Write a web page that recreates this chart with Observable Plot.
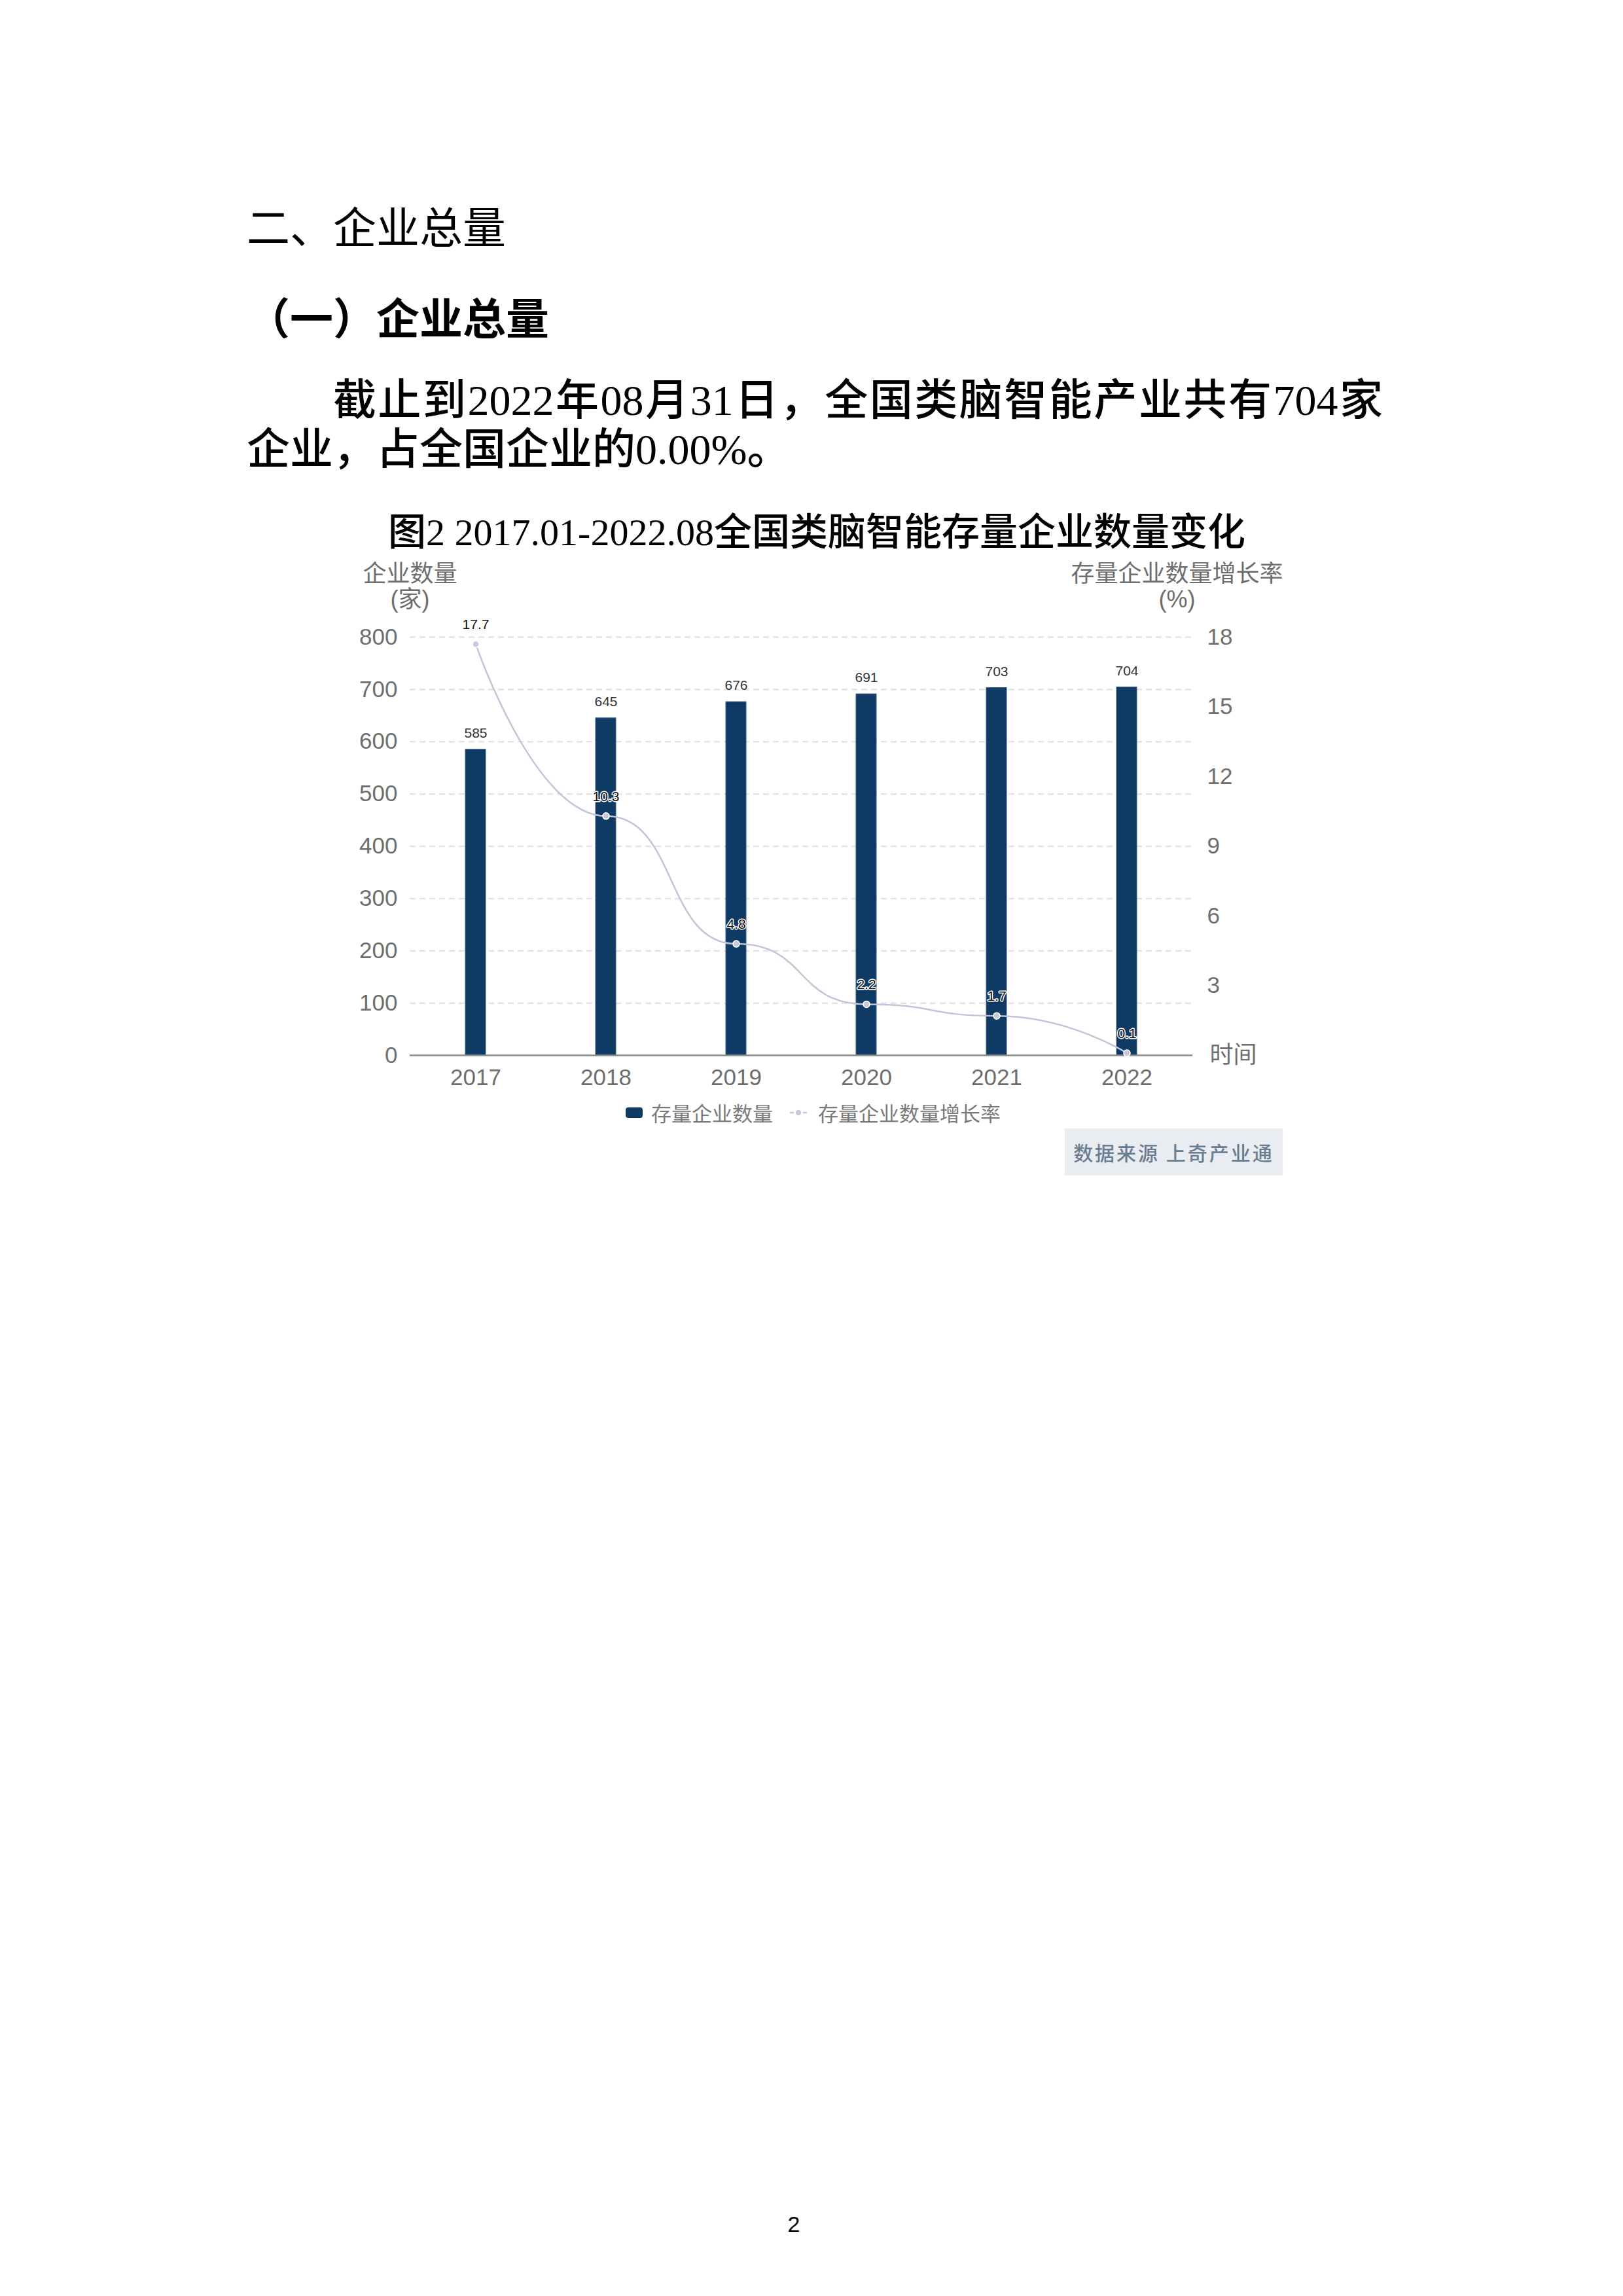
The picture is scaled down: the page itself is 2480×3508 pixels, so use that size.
<!DOCTYPE html>
<html>
<head>
<meta charset="utf-8">
<script src="https://cdn.jsdelivr.net/npm/d3@7"></script>
<script src="https://cdn.jsdelivr.net/npm/@observablehq/plot@0.6"></script>
<style>
  html, body { margin: 0; padding: 0; background: #fff; }
  #page { position: relative; width: 2480px; height: 3508px; background: #fff; overflow: hidden;
          font-family: "Liberation Serif", "Noto Sans CJK SC", serif; color: #000; }
  .abs { position: absolute; white-space: nowrap; }
  .cjk { font-family: "Noto Sans CJK SC", sans-serif; }
  .mix { font-family: "Liberation Serif", "Noto Sans CJK SC", serif; font-weight: 500; }
</style>
</head>
<body>
<div id="page">
  <div class="abs cjk" style="left:377px; top:310px; font-size:66px; line-height:66px;">二、企业总量</div>
  <div class="abs cjk" style="left:377px; top:449px; font-size:66px; line-height:66px; font-weight:700;">（一）企业总量</div>
  <div class="abs mix" style="left:377px; top:576px; width:1736px; height:72px; font-size:66px; line-height:72px; text-indent:132px; text-align:justify; text-align-last:justify; overflow:visible;">截止到2022年08月31日，全国类脑智能产业共有704家</div>
  <div class="abs mix" style="left:377px; top:651px; height:72px; font-size:66px; line-height:72px;">企业，占全国企业的0.00%。</div>
  <div class="abs mix" style="left:0; width:2496px; top:781px; font-size:58px; line-height:66px; text-align:center;">图2 2017.01-2022.08全国类脑智能存量企业数量变化</div>
  <div id="chart" class="abs" style="left:0; top:840px;"></div>
  <div id="legend" class="abs cjk" style="left:0; top:1680px; height:40px; width:2480px; font-size:31px; color:#7a7a7a;">
    <div class="abs" style="left:956px; top:12px; width:26px; height:16px; border-radius:4px; background:#0f3a64;"></div>
    <div class="abs" style="left:995px; top:1px; line-height:38px;">存量企业数量</div>
    <svg class="abs" style="left:1205px; top:10px;" width="30" height="20">
      <line x1="2" y1="10" x2="8" y2="10" stroke="#c3c3d9" stroke-width="2.5"/>
      <line x1="22" y1="10" x2="28" y2="10" stroke="#c3c3d9" stroke-width="2.5"/>
      <circle cx="15" cy="10" r="5" fill="#c9c9de" stroke="#fff" stroke-width="1.5"/>
    </svg>
    <div class="abs" style="left:1250px; top:1px; line-height:38px;">存量企业数量增长率</div>
  </div>
  <div class="abs cjk" style="left:1627px; top:1724px; width:333px; height:72px; background:#e9ecf0; color:#6a7d92; font-size:30px; line-height:72px; text-align:center; letter-spacing:3px; font-weight:500;">数据来源 上奇产业通</div>
  <div class="abs" style="left:1193px; width:40px; top:3381px; font-size:34px; line-height:34px; text-align:center; font-family:'Liberation Sans', sans-serif;">2</div>
</div>
<script>
const years = ["2017", "2018", "2019", "2020", "2021", "2022"];
const counts = [585, 645, 676, 691, 703, 704];
const rates = [17.7, 10.3, 4.8, 2.2, 1.7, 0.1];
const leftTicks = [0, 100, 200, 300, 400, 500, 600, 700, 800];
const rightTicks = [3, 6, 9, 12, 15, 18];
const leftMax = 800, rightMax = 18;

const data = years.map((y, i) => ({year: y, count: counts[i], rate: rates[i]}));
const toLeft = r => r * leftMax / rightMax;

const navy = "#0f3a64";
const lineColor = "#c3c3d9";
const axisColor = "#6e6e6e";

// smooth curve in the style of the source chart: flat tangents at inner points,
// control point at the point itself at both ends
function curveSmoothFlat(context) {
  const s = 0.55;
  let pts;
  return {
    areaStart() {}, areaEnd() {},
    lineStart() { pts = []; },
    point(x, y) { pts.push([+x, +y]); },
    lineEnd() {
      const n = pts.length;
      if (!n) return;
      context.moveTo(pts[0][0], pts[0][1]);
      for (let i = 0; i < n - 1; i++) {
        const [x0, y0] = pts[i], [x1, y1] = pts[i + 1];
        const dx = x1 - x0;
        const c1x = i === 0 ? x0 : x0 + s * dx;
        const c2x = i + 1 === n - 1 ? x1 : x1 - s * dx;
        context.bezierCurveTo(c1x, y0, c2x, y1, x1, y1);
      }
    }
  };
}

const chart = Plot.plot({
  width: 2480,
  height: 840,
  marginLeft: 626,
  marginRight: 658,
  marginTop: 133,
  marginBottom: 68,
  style: {fontFamily: "'Liberation Sans', 'Noto Sans CJK SC', sans-serif", color: axisColor, background: "transparent"},
  x: {type: "band", domain: years, paddingInner: 0.844, paddingOuter: 0.422, align: 0.5},
  y: {domain: [0, leftMax]},
  marks: [
    Plot.gridY(leftTicks.filter(d => d > 0), {stroke: "#e3e3e3", strokeOpacity: 1, strokeWidth: 2.5, strokeDasharray: "9,6"}),
    Plot.barY(data, {x: "year", y: "count", fill: navy, stroke: "#3d5f84", strokeWidth: 1}),
    Plot.ruleY([0], {stroke: "#8a8a8a", strokeWidth: 2.5}),
    Plot.axisY(leftTicks, {tickSize: 0, tickPadding: 19, fontSize: 35, fill: axisColor, label: null}),
    Plot.axisY(rightTicks.map(toLeft), {anchor: "right", tickSize: 0, tickPadding: 22, fontSize: 35, fill: axisColor, label: null,
      tickFormat: d => String(Math.round(d * rightMax / leftMax))}),
    Plot.axisX({tickSize: 0, tickPadding: 21, fontSize: 35, fill: axisColor, label: null}),
    Plot.text(data, {x: "year", y: "count", text: d => String(d.count), dy: -25, fontSize: 21, fill: "#333"}),
    Plot.line(data, {x: "year", y: d => toLeft(d.rate), curve: curveSmoothFlat, stroke: lineColor, strokeWidth: 2.5}),
    Plot.dot(data, {x: "year", y: d => toLeft(d.rate), r: 5, fill: "#c9c9de", stroke: "#fff", strokeWidth: 1.5}),
    Plot.text(data, {x: "year", y: d => toLeft(d.rate), text: d => d.rate.toFixed(1), dy: -30, fontSize: 21, fill: "#111", stroke: "#fff", strokeWidth: 3, paintOrder: "stroke"}),
    Plot.text(["企业数量"], {frameAnchor: "top-left", text: d => d, dy: -96, fontSize: 36, fill: axisColor, textAnchor: "middle", lineAnchor: "middle"}),
    Plot.text(["(家)"], {frameAnchor: "top-left", text: d => d, dy: -57, fontSize: 36, fill: axisColor, textAnchor: "middle", lineAnchor: "middle"}),
    Plot.text(["存量企业数量增长率"], {frameAnchor: "top-right", text: d => d, dx: -24, dy: -96, fontSize: 36, fill: axisColor, textAnchor: "middle", lineAnchor: "middle"}),
    Plot.text(["(%)"], {frameAnchor: "top-right", text: d => d, dx: -24, dy: -57, fontSize: 36, fill: axisColor, textAnchor: "middle", lineAnchor: "middle"}),
    Plot.text(["时间"], {frameAnchor: "bottom-right", text: d => d, dx: 62, dy: 0, fontSize: 36, fill: axisColor, textAnchor: "middle", lineAnchor: "middle"})
  ]
});
document.getElementById("chart").appendChild(chart);
</script>
</body>
</html>
